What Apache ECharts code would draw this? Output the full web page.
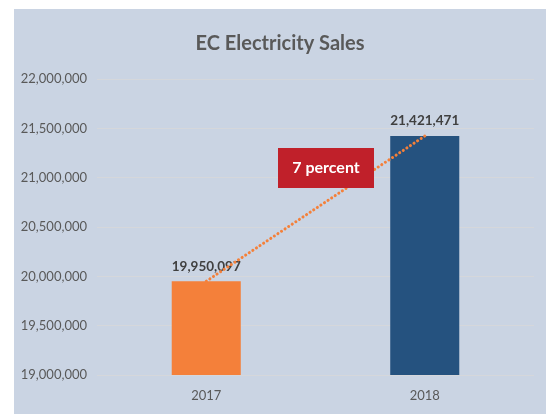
<!DOCTYPE html>
<html>
<head>
<meta charset="utf-8">
<script src="https://cdn.jsdelivr.net/npm/echarts@6/dist/echarts.min.js"></script>
<style>
html,body{margin:0;padding:0;background:#fff;}
#chart{position:absolute;left:14px;top:9px;width:532px;height:405px;}
</style>
</head>
<body>
<div id="chart"></div>
<script>
const titleText = 'EC Electricity Sales';
const categories = ['2017', '2018'];
const sales = [19950097, 21421471];
const barColors = ['#F4803A', '#25527F'];
const yMin = 19000000, yMax = 22000000, yStep = 500000;
const annotation = '7 percent';

const chart = echarts.init(document.getElementById('chart'), null, {renderer: 'canvas'});
const fmt = v => v.toLocaleString('en-US');
chart.setOption({
  backgroundColor: '#CAD4E3',
  animation: false,
  title: {
    text: titleText, left: 'center', top: 20,
    textStyle: {fontFamily: 'Lato', fontWeight: 'bold', fontSize: 20, color: '#595959'}
  },
  grid: {left: 83, right: 12, top: 70, bottom: 39},
  xAxis: {
    type: 'category', data: categories,
    axisLine: {show: false}, axisTick: {show: false},
    axisLabel: {fontFamily: 'Lato', fontSize: 13, color: '#595959', margin: 14}
  },
  yAxis: {
    type: 'value', min: yMin, max: yMax, interval: yStep,
    axisLine: {show: false}, axisTick: {show: false},
    splitLine: {lineStyle: {color: '#D5D7DB', width: 1.2}},
    axisLabel: {fontFamily: 'Lato', fontSize: 13, color: '#595959', margin: 10, formatter: fmt}
  },
  series: [
    {
      type: 'bar', barWidth: '31.6%',
      data: sales.map((v, i) => ({value: v, itemStyle: {color: barColors[i]}})),
      label: {
        show: true, position: 'top', distance: 8,
        fontFamily: 'Lato', fontWeight: 'bold', fontSize: 13.5, color: '#404040',
        formatter: p => fmt(p.value)
      }
    },
    {
      type: 'line', data: sales, symbol: 'none', z: 5,
      lineStyle: {color: '#F4803A', width: 3, type: [0.1, 4.2], cap: 'round'}
    }
  ],
  graphic: [
    {
      type: 'group', left: 264, top: 139, z: 100,
      children: [
        {type: 'rect', z: 100, shape: {x: 0, y: 0, width: 96, height: 40}, style: {fill: '#C0202A'}},
        {type: 'text', z: 101, x: 48, y: 20, style: {text: annotation, fill: '#fff', font: 'bold 16px Lato', textAlign: 'center', textVerticalAlign: 'middle'}}
      ]
    }
  ]
});
</script>
</body>
</html>
